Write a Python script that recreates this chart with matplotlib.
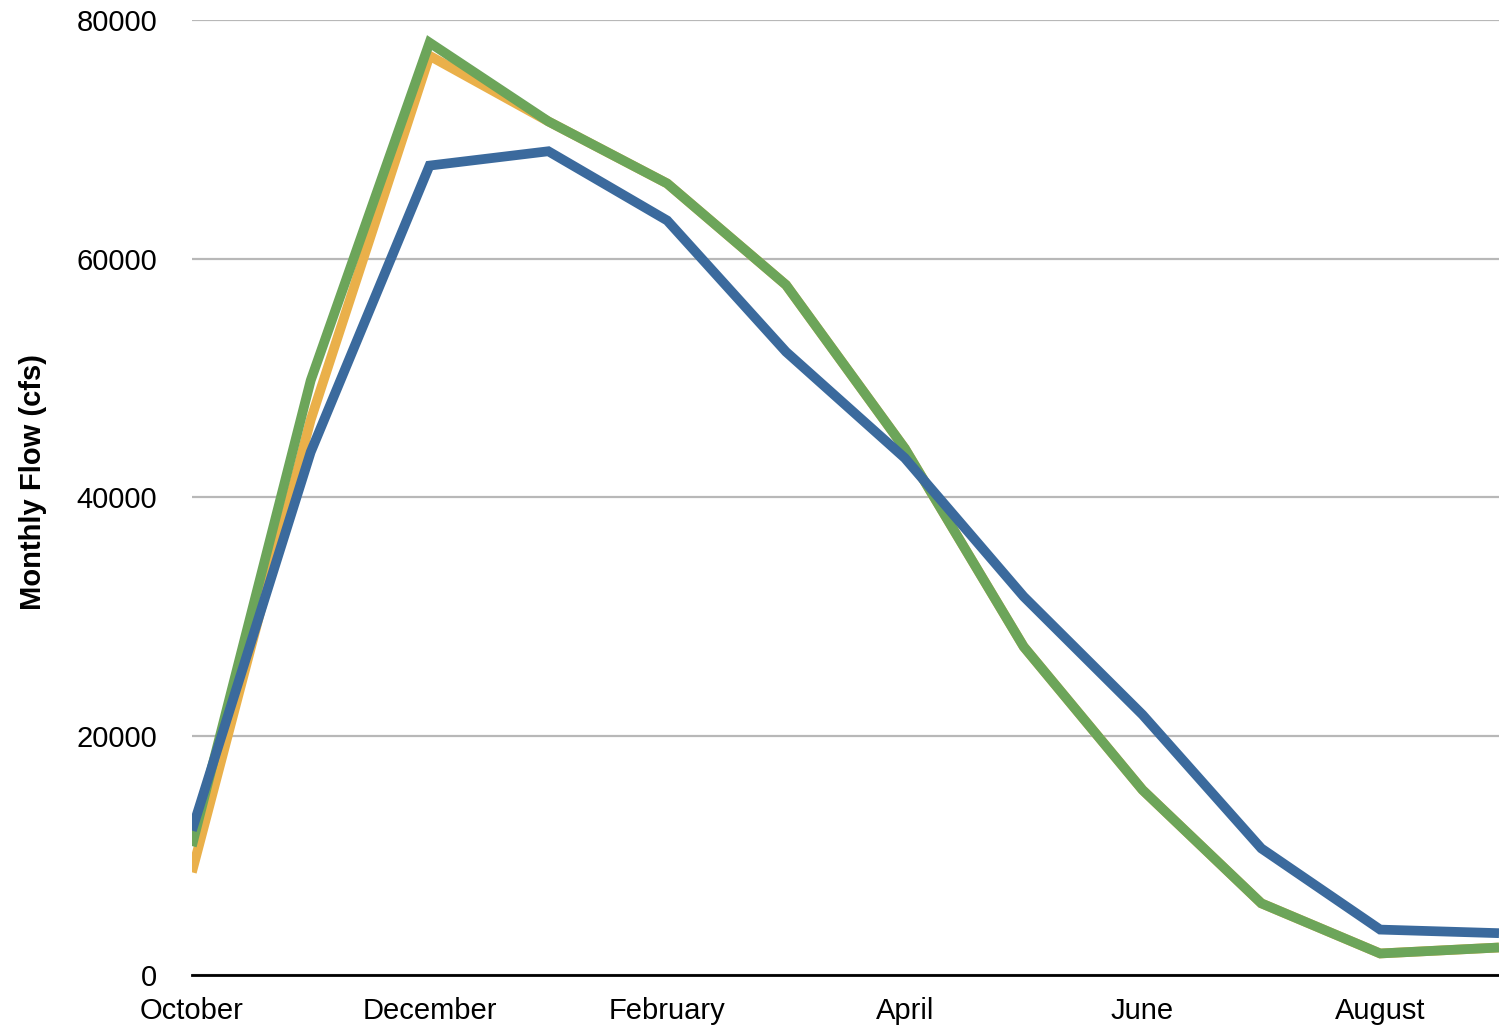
import matplotlib
matplotlib.use("Agg")
import matplotlib.pyplot as plt
import numpy as np

months = ["October", "November", "December", "January", "February", "March",
          "April", "May", "June", "July", "August", "September"]

# monthly flow (cfs)
blue = [12100, 43800, 67800, 69000, 63200, 52200, 43300, 31700, 21800, 10600, 3800, 3500]
orange = [8600, 46500, 77000, 71500, 66300, 57800, 44100, 27500, 15500, 6000, 1800, 2300]
green = [10800, 49800, 78100, 71500, 66300, 57800, 44100, 27500, 15500, 6000, 1800, 2300]

plt.rcParams['font.family'] = ['Liberation Sans', 'DejaVu Sans']

fig = plt.figure(figsize=(14.99, 10.28), dpi=100)
ax = fig.add_axes([0.128, 0.0516, 0.872, 0.929])

x = np.arange(len(months))
style = dict(lw=7, solid_joinstyle="miter", solid_capstyle="butt")
ax.plot(x, orange, color="#eab04a", zorder=3, **style)
ax.plot(x, green, color="#6ca55a", zorder=4, **style)
ax.plot(x, blue, color="#3b6a9d", zorder=5, **style)

ax.set_xlim(0, 11)
ax.set_ylim(0, 80000)
ax.set_yticks([0, 20000, 40000, 60000, 80000])
ax.set_yticklabels(["0", "20000", "40000", "60000", "80000"])
ax.set_xticks(x[::2])
ax.set_xticklabels(months[::2])
ax.tick_params(axis="both", length=0, labelsize=21)
ax.tick_params(axis="y", pad=25)
ax.tick_params(axis="x", pad=16)

ax.yaxis.grid(True, color="#b8b8b8", lw=1.6)
ax.set_axisbelow(True)
for s in ["top", "right", "left"]:
    ax.spines[s].set_visible(False)
ax.spines["bottom"].set_linewidth(2)
ax.spines["bottom"].set_color("black")
ax.spines["bottom"].set_zorder(6)

ax.set_ylabel("Monthly Flow (cfs)", fontsize=21, fontweight="bold")
ax.yaxis.set_label_coords(-0.111, 0.516)

fig.savefig("out.png", dpi=100)
